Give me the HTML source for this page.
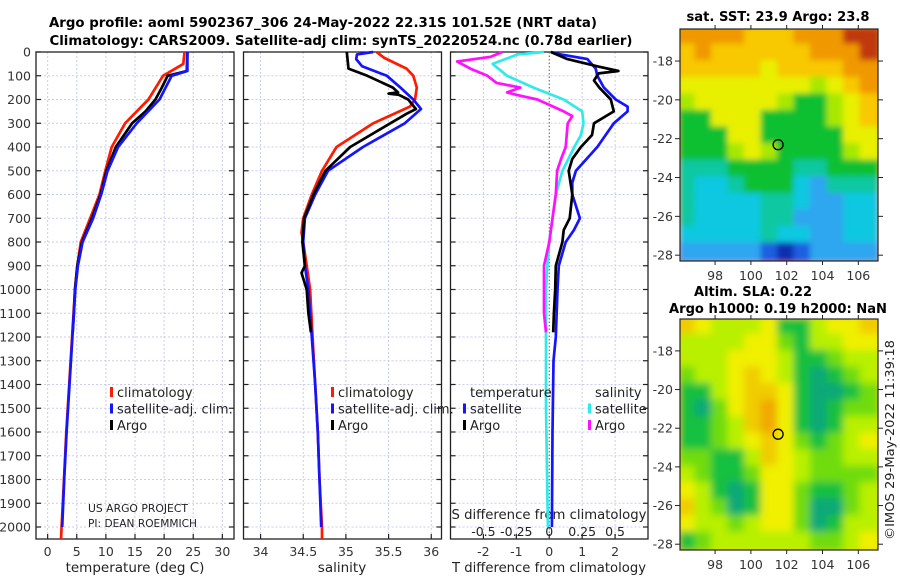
<!DOCTYPE html>
<html><head><meta charset="utf-8"><style>
html,body{margin:0;padding:0;background:#fff;}
svg{display:block;font-family:"DejaVu Sans","Liberation Sans",sans-serif;}
</style></head><body>
<svg id="fig" width="900" height="580" viewBox="0 0 900 580" xmlns="http://www.w3.org/2000/svg">
<text x="323" y="27" text-anchor="middle" font-weight="bold" font-size="13.5" textLength="548" lengthAdjust="spacingAndGlyphs">Argo profile: aoml 5902367_306 24-May-2022 22.31S 101.52E (NRT data)</text>
<text x="341" y="45" text-anchor="middle" font-weight="bold" font-size="13.5" textLength="583" lengthAdjust="spacingAndGlyphs">Climatology: CARS2009. Satellite-adj clim: synTS_20220524.nc (0.78d earlier)</text>
<text x="778" y="21" text-anchor="middle" font-weight="bold" font-size="13" textLength="183" lengthAdjust="spacingAndGlyphs">sat. SST: 23.9 Argo: 23.8</text>
<text x="753" y="296" text-anchor="middle" font-weight="bold" font-size="13" textLength="118" lengthAdjust="spacingAndGlyphs">Altim. SLA: 0.22</text>
<text x="778" y="313" text-anchor="middle" font-weight="bold" font-size="13" textLength="218" lengthAdjust="spacingAndGlyphs">Argo h1000: 0.19 h2000: NaN</text>
<text transform="translate(894,440) rotate(-90)" text-anchor="middle" font-size="12.5" fill="#222" textLength="200" lengthAdjust="spacingAndGlyphs">©IMOS 29-May-2022 11:39:18</text>
</svg>
<script>
// ---------- data ----------
const depthTicks = [0,100,200,300,400,500,600,700,800,900,1000,1100,1200,1300,1400,1500,1600,1700,1800,1900,2000];
const tempTicks = [0,5,10,15,20,25,30];
const salTicks = [34,34.5,35,35.5,36];
const salTickLabels = ["34","34.5","35","35.5","36"];
const tdiffTicks = [-2,-1,0,1,2];
const sdiffTickLabels = ["-0.5","-0.25","0","0.25","0.5"];
const sdiffTicks = [-0.5,-0.25,0,0.25,0.5];

const tempClimDepth = [0,50,100,200,300,400,500,600,700,800,900,1000,1200,1400,1600,1800,2000,2050];
const tempClim = [23.5,23.3,19.8,17.3,13.3,11.0,9.9,8.9,7.3,5.7,5.1,4.7,4.2,3.7,3.2,2.8,2.4,2.3];
const tempSatDepth = [0,80,100,200,300,400,500,600,700,800,900,1000,1200,1400,1600,1800,2000];
const tempSat = [24.0,24.0,21.3,19.2,15.3,12.1,10.3,9.2,7.8,6.0,5.2,4.75,4.25,3.75,3.25,2.85,2.5];
const tempArgoDepth = [0,80,100,150,200,250,300,400,500,600,700,800,900,1000,1100,1180];
const tempArgo = [24.0,23.9,20.6,19.6,18.5,16.8,14.5,11.7,10.1,9.1,7.6,5.9,5.1,4.7,4.5,4.3];

const salClimDepth = [0,25,70,100,150,200,230,300,400,500,600,700,760,800,900,1000,1200,1400,1600,1800,2000,2050];
const salClim = [35.36,35.45,35.71,35.79,35.83,35.81,35.75,35.32,34.89,34.72,34.60,34.50,34.48,34.50,34.54,34.58,34.61,34.64,34.67,34.69,34.72,34.72];
const salSatDepth = [0,10,30,60,100,150,200,240,300,400,500,600,700,800,900,1000,1200,1400,1600,1800,2000];
const salSat = [35.32,35.13,35.12,35.19,35.48,35.64,35.79,35.88,35.69,35.20,34.79,34.64,34.52,34.50,34.52,34.56,34.60,34.64,34.67,34.69,34.71];
const salArgoDepth = [0,70,100,150,170,175,180,200,240,260,300,400,500,600,700,800,900,930,1000,1100,1180];
const salArgo = [35.01,35.03,35.25,35.55,35.61,35.50,35.62,35.73,35.82,35.71,35.52,35.05,34.76,34.62,34.51,34.49,34.52,34.48,34.54,34.56,34.59];

const tdSatDepth = [0,10,30,70,100,150,200,230,250,300,400,500,550,600,700,750,800,900,1000,1200,1300,1600,2000];
const tdSat = [0.05,0.35,1.16,1.41,1.46,1.66,2.02,2.38,2.38,1.96,1.46,0.81,0.70,0.70,0.93,0.75,0.50,0.29,0.25,0.2,0.13,0.1,0.08];
const tdArgoDepth = [0,30,60,80,90,120,150,200,250,300,350,400,450,500,600,700,750,800,900,1000,1100,1180];
const tdArgo = [0.05,0.55,1.46,2.1,1.5,1.36,1.52,1.87,1.96,1.36,1.3,0.96,0.70,0.59,0.70,0.62,0.44,0.40,0.2,0.18,0.14,0.12];
const sdSatDepth = [0,10,50,100,150,200,250,300,350,400,500,600,700,800,900,1000,1500,2000];
const sdSat = [-0.04,-0.24,-0.43,-0.32,-0.12,0.11,0.25,0.26,0.24,0.19,0.10,0.05,0.025,0,-0.015,-0.025,-0.025,-0.01];
const sdArgoDepth = [0,20,40,70,100,130,150,170,180,200,250,270,300,400,450,500,600,700,800,900,1000,1100,1180];
const sdArgo = [-0.355,-0.445,-0.70,-0.60,-0.47,-0.40,-0.22,-0.32,-0.25,-0.09,0.11,0.175,0.14,0.125,0.09,0.06,0.05,0.025,0,-0.04,-0.04,-0.04,-0.025];

const lonTicks = [98,100,102,104,106];
const latTicks = [-18,-20,-22,-24,-26,-28];
const argoLon = 101.52, argoLat = -22.31;
const sstGrid = [
[9,9,9,9,8,8,8,9,9,9,10,10],
[8,9,8,8,8,8,8,8,9,9,9,10],
[8,8,8,8,8,7,8,8,8,8,9,9],
[7,7,7,7,7,7,7,7,6,7,8,9],
[6,7,7,7,7,7,6,5,5,6,7,8],
[5,5,7,7,7,5,5,5,5,6,7,8],
[5,5,5,7,7,5,5,5,5,5,7,7],
[5,5,5,6,7,6,5,5,5,5,6,7],
[4,4,4,5,5,5,5,4,4,5,5,5],
[4,3,3,4,5,5,5,3,2,4,4,4],
[4,3,3,3,3,4,4,3,2,2,3,3],
[4,3,3,3,3,4,4,2,2,2,3,3],
[3,3,3,3,3,4,3,3,2,2,3,3],
[2,2,2,2,2,1,0,1,2,2,2,2]];
const slaGrid = [
[5,4,3,3,3,4,1,1,3,4,4,5],
[3,3,3,3,4,4,2,1,3,3,4,4],
[3,3,3,4,4,4,3,1,1,2,3,3],
[2,3,3,4,5,4,3,1,0,1,2,3],
[1,1,3,4,5,5,4,1,0,0,1,2],
[1,0,2,4,5,6,4,1,0,1,2,2],
[1,1,2,3,5,6,4,1,0,1,3,3],
[1,1,2,3,4,5,4,2,1,2,3,4],
[2,2,1,1,3,5,4,3,2,2,3,3],
[3,2,1,1,2,4,4,3,2,2,2,2],
[4,3,1,0,1,4,4,2,1,1,2,3],
[5,3,2,0,1,4,4,2,0,0,2,3],
[4,3,3,2,3,4,4,2,0,1,3,3],
[1,2,3,3,3,3,3,3,2,2,3,4]];
const sstColors = ["#0c2eb0","#1a5ee0","#2ea6f0","#10c8e0","#10c8a0","#10c030","#a8e800","#e8f000","#f8c800","#f09800","#c03808"];
const slaColors = ["#10a878","#18c040","#70dc10","#b8f000","#f0f000","#f0cc00","#f0a800"];

// ---------- helpers ----------
const NS = "http://www.w3.org/2000/svg";
const svg = document.getElementById("fig");
function mk(tag, attrs, parent){ const e=document.createElementNS(NS,tag); for(const k in attrs) e.setAttribute(k,attrs[k]); (parent||svg).appendChild(e); return e; }
const yTop=52, pxPerM=0.2375, yBot=539;
const yD = d => yTop + d*pxPerM;
function linX(x0,x1,v0,v1){ return v => x0 + (v-v0)*(x1-x0)/(v1-v0); }

const panels = [
 {name:"temperature-panel", x0:36, x1:234, v0:-2, v1:32},
 {name:"salinity-panel", x0:243.5, x1:441.5, v0:33.8, v1:36.12},
 {name:"difference-panel", x0:450.5, x1:648, v0:-3, v1:3}
];
panels.forEach(p=>{ p.sx = linX(p.x0,p.x1,p.v0,p.v1); });
const xT = panels[0].sx, xS = panels[1].sx, xTD = panels[2].sx;
const xSD = v => xTD(v*4);

function frame(p, ticks, labels, gridTicks){
  const g = mk("g",{});
  
  
  gridTicks.forEach(t=>{
    const gl = mk("line",{x1:p.sx(t),x2:p.sx(t),y1:yTop,y2:yBot,stroke:"#c8cdee","stroke-width":1,"stroke-dasharray":"2,2"},g);
    
    
  });
  depthTicks.forEach(d=>{
    const gl = mk("line",{x1:p.x0,x2:p.x1,y1:yD(d),y2:yD(d),stroke:"#c8cdee","stroke-width":1,"stroke-dasharray":"2,2"},g);
    
    
    const t1 = mk("line",{x1:p.x0,x2:p.x0+5,y1:yD(d),y2:yD(d),stroke:"#222","stroke-width":1.2},g);
    
    
    const t2 = mk("line",{x1:p.x1-5,x2:p.x1,y1:yD(d),y2:yD(d),stroke:"#222","stroke-width":1.2},g);
    
    
  });
  ticks.forEach((t,i)=>{
    const tk = mk("line",{x1:p.sx(t),x2:p.sx(t),y1:yBot,y2:yBot-5,stroke:"#222","stroke-width":1.2},g);
    
    
    const tl = mk("text",{x:p.sx(t),y:556,"text-anchor":"middle","font-size":12.5,fill:"#333"},g);
    tl.textContent = labels[i];
    
    
  });
  const box = mk("rect",{x:p.x0,y:yTop,width:p.x1-p.x0,height:yBot-yTop,fill:"none",stroke:"#222","stroke-width":1.3},g);
  
  
  return g;
}
const g1 = frame(panels[0], tempTicks, tempTicks.map(String), tempTicks);
const g2 = frame(panels[1], salTicks, salTickLabels, salTicks);
const g3 = frame(panels[2], tdiffTicks, tdiffTicks.map(String), [-2,-1,1,2]);

const zl = mk("line",{x1:xTD(0),x2:xTD(0),y1:yTop,y2:yBot,stroke:"#556633","stroke-width":1,"stroke-dasharray":"1.5,2"},g3);



depthTicks.forEach(d=>{
  const t = mk("text",{x:31,y:yD(d)+4.5,"text-anchor":"end","font-size":12.5,fill:"#333"});
  t.textContent = String(d);
  
  
});

function txt(x,y,s,size,anchor,name,extra){
  const t = mk("text",Object.assign({x:x,y:y,"text-anchor":anchor||"middle","font-size":size,fill:"#222"},extra||{}));
  t.textContent = s;
  return t;
}
let t;
t = txt(135,572,"temperature (deg C)",13.5,"middle");


t = txt(342,572,"salinity",13.5,"middle");


t = txt(549,572,"T difference from climatology",13.5,"middle",null,{textLength:194,lengthAdjust:"spacingAndGlyphs"});


t = txt(549,519,"S difference from climatology",13.5,"middle",null,{textLength:195,lengthAdjust:"spacingAndGlyphs"});


sdiffTicks.forEach((v,i)=>{
  const s = txt(xSD(v),536,sdiffTickLabels[i],12.5,"middle");
  
  
});
t = txt(88,512,"US ARGO PROJECT",11,"start",null,{textLength:100,lengthAdjust:"spacingAndGlyphs"});


t = txt(88,527,"PI: DEAN ROEMMICH",11,"start",null,{textLength:109,lengthAdjust:"spacingAndGlyphs"});



function profile(depths, vals, sx, color, name){
  const pts = depths.map((d,i)=> sx(vals[i]).toFixed(1)+","+yD(d).toFixed(1)).join(" ");
  const pl = mk("polyline",{points:pts,fill:"none",stroke:color,"stroke-width":2.7,"stroke-linejoin":"round"});
  
  
}
profile(tempClimDepth,tempClim,xT,"#ff1a00","temperature-climatology-line");
profile(tempArgoDepth,tempArgo,xT,"#000","temperature-argo-line");
profile(tempSatDepth,tempSat,xT,"#1414ff","temperature-satellite-line");
profile(salClimDepth,salClim,xS,"#ff1a00","salinity-climatology-line");
profile(salSatDepth,salSat,xS,"#1414ff","salinity-satellite-line");
profile(salArgoDepth,salArgo,xS,"#000","salinity-argo-line");
profile(sdSatDepth,sdSat,xSD,"#30eaea","s-diff-satellite-line");
profile(sdArgoDepth,sdArgo,xSD,"#ff10ff","s-diff-argo-line");
profile(tdSatDepth,tdSat,xTD,"#1414ff","t-diff-satellite-line");
profile(tdArgoDepth,tdArgo,xTD,"#000","t-diff-argo-line");

function legendEntry(x,y,color,label,name){
  const b = mk("rect",{x:x,y:y-10,width:3,height:10,fill:color});
  
  
  const l = mk("text",{x:x+7,y:y,"font-size":13,fill:"#222"});
  l.textContent = label;
  
  
}
const legY = [397,413.5,430];
legendEntry(110,legY[0],"#ff1a00","climatology","legend-t-climatology");
legendEntry(110,legY[1],"#1414ff","satellite-adj. clim.","legend-t-satellite");
legendEntry(110,legY[2],"#000","Argo","legend-t-argo");
legendEntry(331,legY[0],"#ff1a00","climatology","legend-s-climatology");
legendEntry(331,legY[1],"#1414ff","satellite-adj. clim.","legend-s-satellite");
legendEntry(331,legY[2],"#000","Argo","legend-s-argo");
t = txt(470,legY[0],"temperature",13,"start");


t = txt(595,legY[0],"salinity",13,"start");


legendEntry(463,legY[1],"#1414ff","satellite","legend-td-satellite");
legendEntry(463,legY[2],"#000","Argo","legend-td-argo");
legendEntry(588,legY[1],"#30eaea","satellite","legend-sd-satellite");
legendEntry(588,legY[2],"#ff10ff","Argo","legend-sd-argo");

const lonMin=96.04, lonMax=107.1, latTop=-16.35, latBot=-28.3;
function drawMap(y0,y1,grid,colors,name,blur){
  const x0=680,x1=878;
  const mx = linX(x0,x1,lonMin,lonMax);
  const my = linX(y0,y1,latTop,latBot);
  const g = mk("g",{});
  
  
  const clipId = name+"-clip";
  const cp = mk("clipPath",{id:clipId},g);
  mk("rect",{x:x0,y:y0,width:x1-x0,height:y1-y0},cp);
  if(blur){
    const f = mk("filter",{id:name+"-blur",x:"-10%",y:"-10%",width:"120%",height:"120%"},g);
    mk("feGaussianBlur",{stdDeviation:blur},f);
  }
  const outer = mk("g",{"clip-path":"url(#"+clipId+")"},g);
  const cells = mk("g",blur?{filter:"url(#"+name+"-blur)"}:{},outer);
  const nr=grid.length, nc=grid[0].length, cw=(x1-x0)/nc, ch=(y1-y0)/nr;
  mk("rect",{x:x0-10,y:y0-10,width:x1-x0+20,height:y1-y0+20,fill:colors[grid[0][0]]},cells);
  for(let r=0;r<nr;r++) for(let c=0;c<nc;c++){
    const cell = mk("rect",{x:x0+c*cw-(blur?2:0),y:y0+r*ch-(blur?2:0),width:cw+(blur?4:0.5),height:ch+(blur?4:0.5),fill:colors[grid[r][c]]},cells);
    
    
  }
  const box = mk("rect",{x:x0,y:y0,width:x1-x0,height:y1-y0,fill:"none",stroke:"#222","stroke-width":1.2},g);
  
  
  latTicks.forEach(la=>{
    const tk = mk("line",{x1:x0-5,x2:x0,y1:my(la),y2:my(la),stroke:"#222"},g);
    
    
    const tk2 = mk("line",{x1:x1,x2:x1+5,y1:my(la),y2:my(la),stroke:"#222"},g);
    
    
    const tl = mk("text",{x:x0-7,y:my(la)+4.5,"text-anchor":"end","font-size":12.5,fill:"#333"},g);
    tl.textContent = String(la);
    
    
  });
  lonTicks.forEach(lo=>{
    const tk = mk("line",{x1:mx(lo),x2:mx(lo),y1:y0-4,y2:y0,stroke:"#222"},g);
    
    
    const tk2 = mk("line",{x1:mx(lo),x2:mx(lo),y1:y1,y2:y1+4,stroke:"#222"},g);
    
    
    const tl = mk("text",{x:mx(lo),y:y1+19,"text-anchor":"middle","font-size":12.5,fill:"#333"},g);
    tl.textContent = String(lo);
    
    
  });
  const c = mk("circle",{cx:mx(argoLon),cy:my(argoLat),r:5,fill:"none",stroke:"#000","stroke-width":1.3},g);
  
  
}
drawMap(29,261,sstGrid,sstColors,"sst-map",3);
drawMap(319,550,slaGrid,slaColors,"sla-map",4);
</script>
</body></html>
